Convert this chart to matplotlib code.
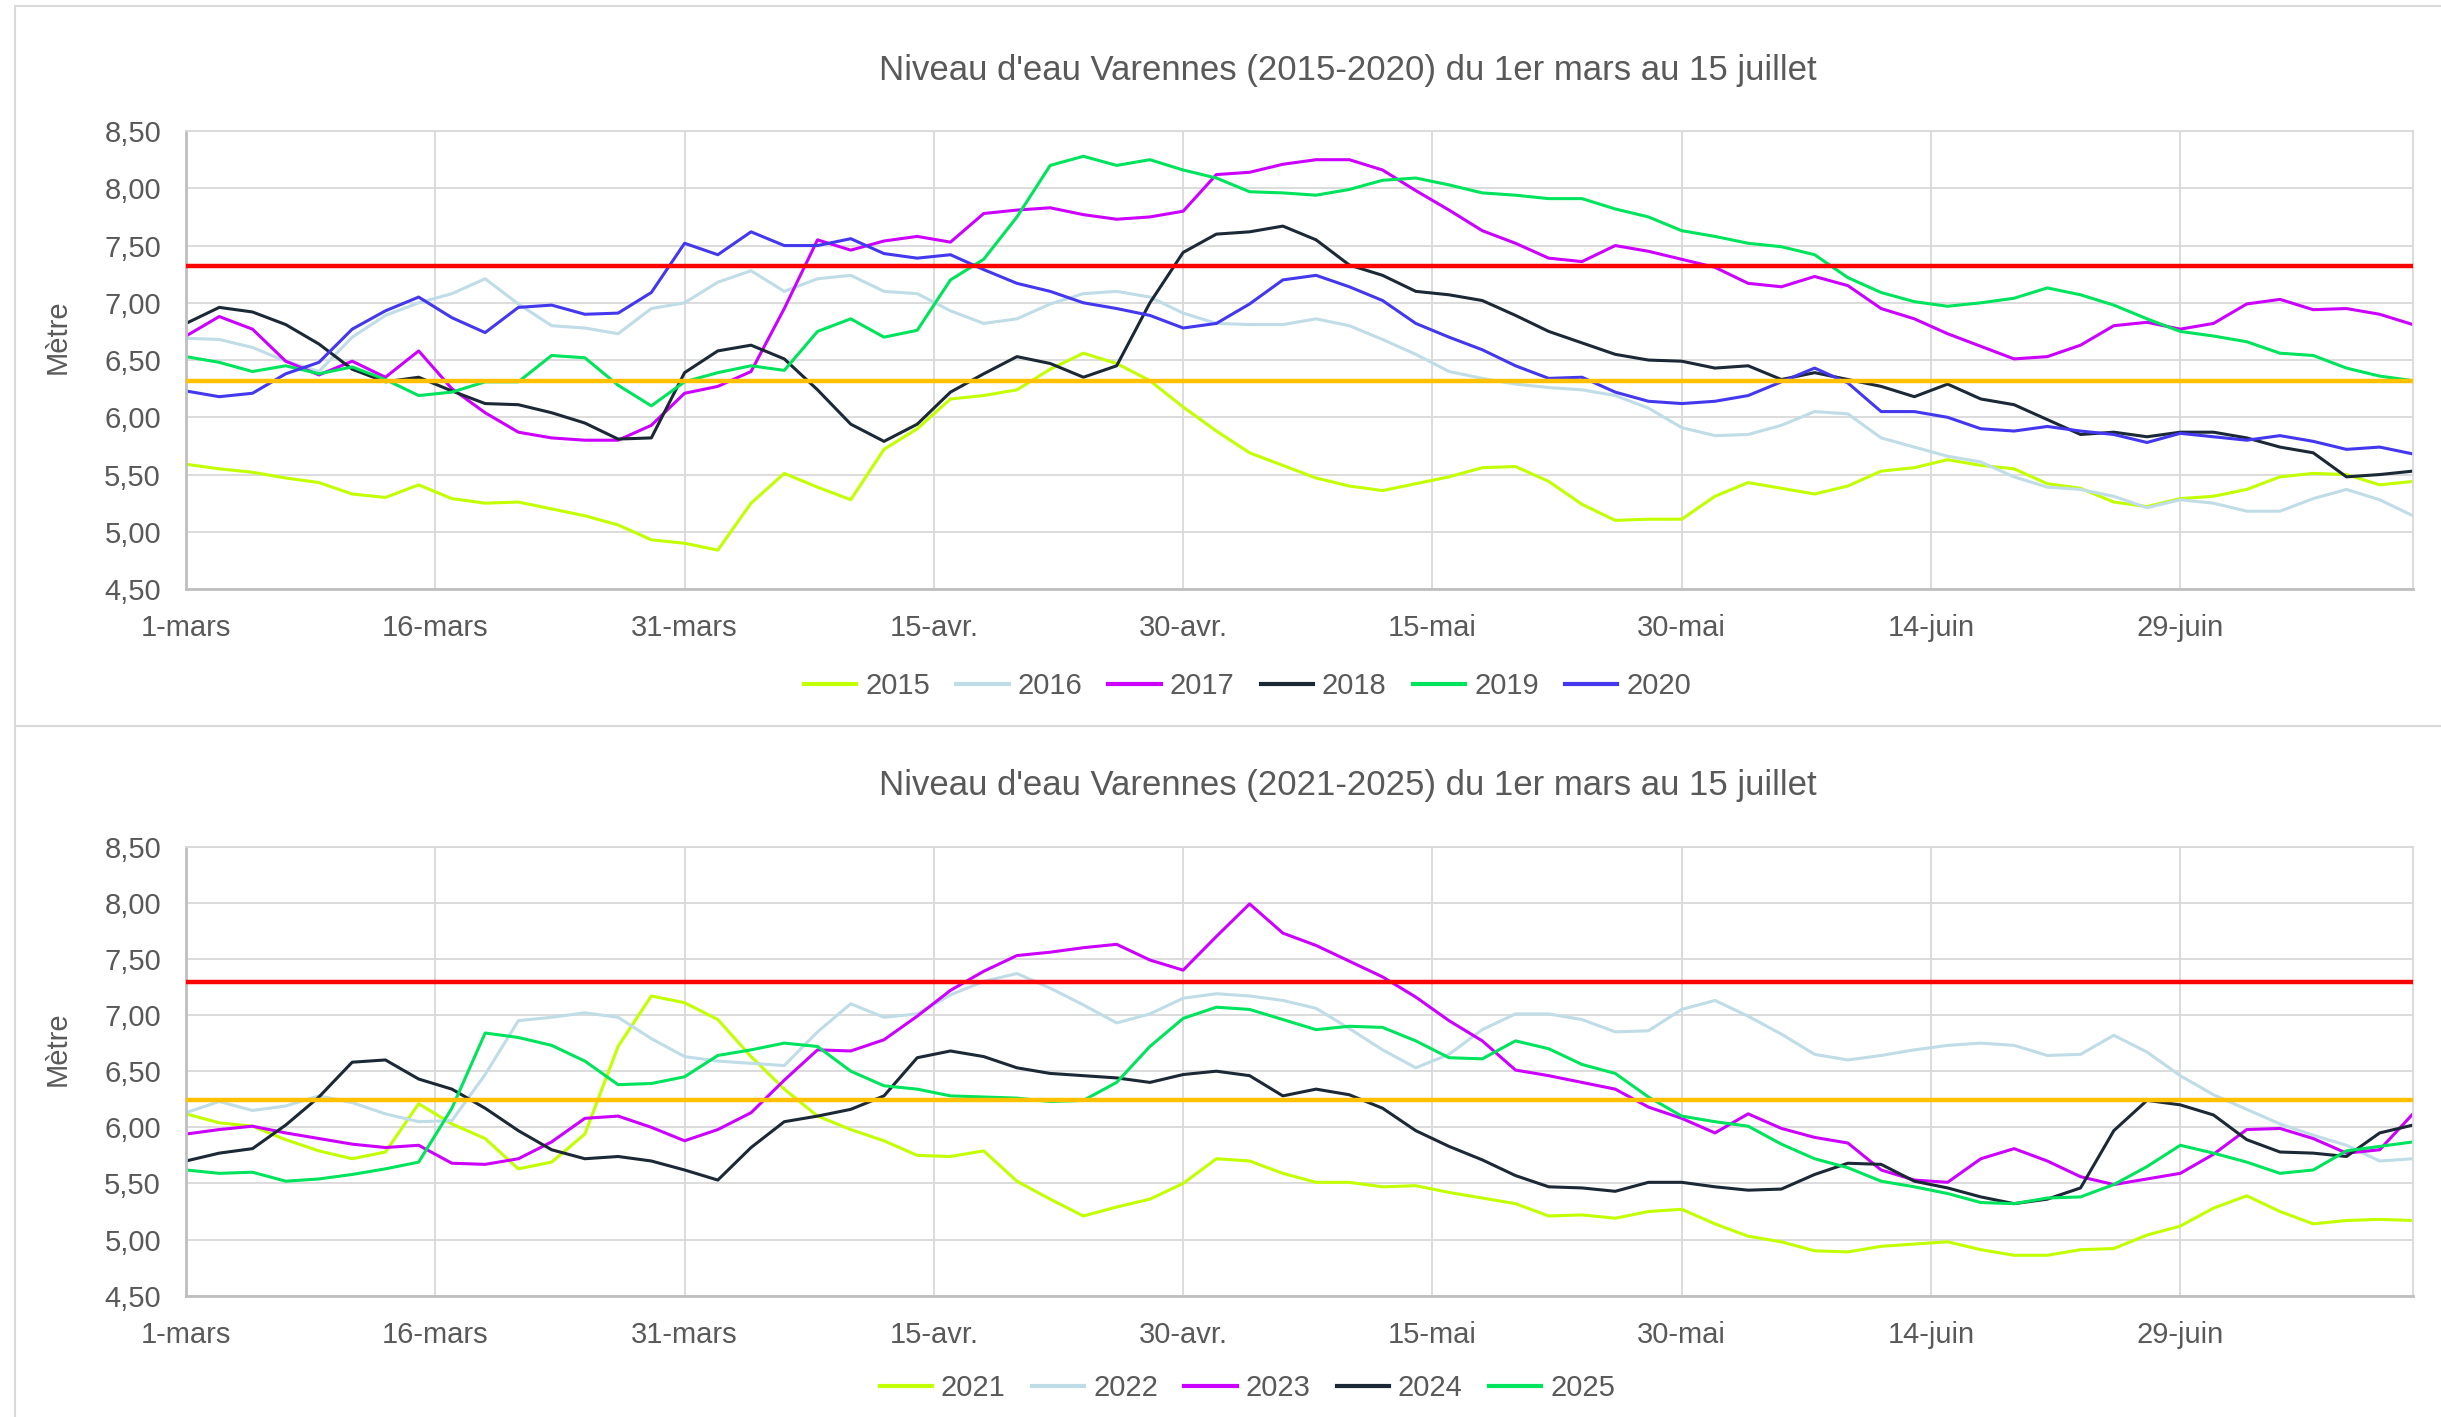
import numpy as np
import matplotlib.pyplot as plt
from matplotlib.patches import Rectangle

plt.rcParams['font.family'] = ['Liberation Sans', 'DejaVu Sans']

# day offset from 1 mars, every 2 days
days = np.arange(0, 135, 2)
tick_days = [0, 15, 30, 45, 60, 75, 90, 105, 120]
tick_labels = ["1-mars", "16-mars", "31-mars", "15-avr.", "30-avr.",
               "15-mai", "30-mai", "14-juin", "29-juin"]
y_ticks = [4.5, 5.0, 5.5, 6.0, 6.5, 7.0, 7.5, 8.0, 8.5]

# 2015-2020
y2015 = [5.59, 5.55, 5.52, 5.47, 5.43, 5.33, 5.30, 5.41, 5.29, 5.25,
         5.26, 5.20, 5.14, 5.06, 4.93, 4.90, 4.84, 5.25, 5.51, 5.39,
         5.28, 5.72, 5.90, 6.16, 6.19, 6.24, 6.42, 6.56, 6.47, 6.32,
         6.09, 5.88, 5.69, 5.58, 5.47, 5.40, 5.36, 5.42, 5.48, 5.56,
         5.57, 5.44, 5.24, 5.10, 5.11, 5.11, 5.31, 5.43, 5.38, 5.33,
         5.40, 5.53, 5.56, 5.63, 5.58, 5.55, 5.42, 5.38, 5.26, 5.22,
         5.29, 5.31, 5.37, 5.48, 5.51, 5.50, 5.41, 5.44]
y2016 = [6.69, 6.68, 6.61, 6.49, 6.40, 6.70, 6.89, 7.00, 7.08, 7.21,
         6.99, 6.80, 6.78, 6.73, 6.95, 7.00, 7.18, 7.28, 7.10, 7.21,
         7.24, 7.10, 7.08, 6.93, 6.82, 6.86, 6.99, 7.08, 7.10, 7.05,
         6.91, 6.82, 6.81, 6.81, 6.86, 6.80, 6.68, 6.55, 6.40, 6.34,
         6.29, 6.26, 6.24, 6.19, 6.08, 5.91, 5.84, 5.85, 5.93, 6.05,
         6.03, 5.82, 5.74, 5.66, 5.61, 5.48, 5.39, 5.37, 5.31, 5.21,
         5.28, 5.25, 5.18, 5.18, 5.29, 5.37, 5.28, 5.14]
y2017 = [6.71, 6.88, 6.77, 6.49, 6.37, 6.49, 6.35, 6.58, 6.25, 6.04,
         5.87, 5.82, 5.80, 5.80, 5.93, 6.21, 6.27, 6.40, 6.95, 7.55,
         7.46, 7.54, 7.58, 7.53, 7.78, 7.81, 7.83, 7.77, 7.73, 7.75,
         7.80, 8.12, 8.14, 8.21, 8.25, 8.25, 8.16, 7.98, 7.81, 7.63,
         7.52, 7.39, 7.36, 7.50, 7.45, 7.38, 7.31, 7.17, 7.14, 7.23,
         7.15, 6.95, 6.86, 6.73, 6.62, 6.51, 6.53, 6.63, 6.80, 6.83,
         6.77, 6.82, 6.99, 7.03, 6.94, 6.95, 6.90, 6.81]
y2018 = [6.82, 6.96, 6.92, 6.81, 6.64, 6.42, 6.31, 6.35, 6.23, 6.12,
         6.11, 6.04, 5.95, 5.81, 5.82, 6.39, 6.58, 6.63, 6.51, 6.24,
         5.94, 5.79, 5.94, 6.22, 6.38, 6.53, 6.47, 6.35, 6.45, 7.00,
         7.44, 7.60, 7.62, 7.67, 7.55, 7.33, 7.24, 7.10, 7.07, 7.02,
         6.89, 6.75, 6.65, 6.55, 6.50, 6.49, 6.43, 6.45, 6.33, 6.39,
         6.33, 6.27, 6.18, 6.29, 6.16, 6.11, 5.98, 5.85, 5.87, 5.83,
         5.87, 5.87, 5.82, 5.74, 5.69, 5.48, 5.50, 5.53]
y2019 = [6.53, 6.48, 6.40, 6.45, 6.38, 6.44, 6.33, 6.19, 6.22, 6.31,
         6.31, 6.54, 6.52, 6.28, 6.10, 6.31, 6.39, 6.45, 6.41, 6.75,
         6.86, 6.70, 6.76, 7.20, 7.38, 7.75, 8.20, 8.28, 8.20, 8.25,
         8.16, 8.09, 7.97, 7.96, 7.94, 7.99, 8.07, 8.09, 8.03, 7.96,
         7.94, 7.91, 7.91, 7.82, 7.75, 7.63, 7.58, 7.52, 7.49, 7.42,
         7.22, 7.09, 7.01, 6.97, 7.00, 7.04, 7.13, 7.07, 6.98, 6.86,
         6.75, 6.71, 6.66, 6.56, 6.54, 6.43, 6.36, 6.32]
y2020 = [6.23, 6.18, 6.21, 6.38, 6.48, 6.77, 6.93, 7.05, 6.87, 6.74,
         6.96, 6.98, 6.90, 6.91, 7.09, 7.52, 7.42, 7.62, 7.50, 7.50,
         7.56, 7.43, 7.39, 7.42, 7.29, 7.17, 7.10, 7.00, 6.95, 6.89,
         6.78, 6.82, 6.99, 7.20, 7.24, 7.14, 7.02, 6.82, 6.70, 6.59,
         6.45, 6.34, 6.35, 6.22, 6.14, 6.12, 6.14, 6.19, 6.31, 6.43,
         6.30, 6.05, 6.05, 6.00, 5.90, 5.88, 5.92, 5.88, 5.85, 5.78,
         5.86, 5.83, 5.80, 5.84, 5.79, 5.72, 5.74, 5.68]

# 2021-2025
y2021 = [6.12, 6.04, 6.01, 5.89, 5.79, 5.72, 5.78, 6.21, 6.03, 5.90,
         5.63, 5.69, 5.94, 6.72, 7.17, 7.11, 6.96, 6.63, 6.34, 6.10,
         5.98, 5.88, 5.75, 5.74, 5.79, 5.52, 5.36, 5.21, 5.29, 5.36,
         5.50, 5.72, 5.70, 5.59, 5.51, 5.51, 5.47, 5.48, 5.42, 5.37,
         5.32, 5.21, 5.22, 5.19, 5.25, 5.27, 5.14, 5.03, 4.98, 4.90,
         4.89, 4.94, 4.96, 4.98, 4.91, 4.86, 4.86, 4.91, 4.92, 5.04,
         5.12, 5.28, 5.39, 5.25, 5.14, 5.17, 5.18, 5.17]
y2022 = [6.13, 6.23, 6.15, 6.19, 6.28, 6.22, 6.12, 6.05, 6.06, 6.47,
         6.95, 6.98, 7.02, 6.98, 6.79, 6.63, 6.59, 6.57, 6.55, 6.85,
         7.10, 6.98, 7.01, 7.18, 7.30, 7.37, 7.24, 7.09, 6.93, 7.01,
         7.15, 7.19, 7.17, 7.13, 7.06, 6.88, 6.69, 6.53, 6.65, 6.87,
         7.01, 7.01, 6.96, 6.85, 6.86, 7.05, 7.13, 6.99, 6.83, 6.65,
         6.60, 6.64, 6.69, 6.73, 6.75, 6.73, 6.64, 6.65, 6.82, 6.67,
         6.46, 6.29, 6.16, 6.03, 5.93, 5.84, 5.70, 5.72]
y2023 = [5.94, 5.98, 6.01, 5.95, 5.90, 5.85, 5.82, 5.84, 5.68, 5.67,
         5.72, 5.87, 6.08, 6.10, 6.00, 5.88, 5.98, 6.13, 6.42, 6.69,
         6.68, 6.78, 6.99, 7.22, 7.39, 7.53, 7.56, 7.60, 7.63, 7.49,
         7.40, 7.70, 7.99, 7.73, 7.62, 7.48, 7.34, 7.16, 6.95, 6.77,
         6.51, 6.46, 6.40, 6.34, 6.18, 6.08, 5.95, 6.12, 5.99, 5.91,
         5.86, 5.62, 5.53, 5.51, 5.72, 5.81, 5.70, 5.56, 5.49, 5.54,
         5.59, 5.76, 5.98, 5.99, 5.90, 5.77, 5.80, 6.12]
y2024 = [5.70, 5.77, 5.81, 6.02, 6.27, 6.58, 6.60, 6.43, 6.34, 6.17,
         5.97, 5.80, 5.72, 5.74, 5.70, 5.62, 5.53, 5.82, 6.05, 6.10,
         6.16, 6.28, 6.62, 6.68, 6.63, 6.53, 6.48, 6.46, 6.44, 6.40,
         6.47, 6.50, 6.46, 6.28, 6.34, 6.29, 6.17, 5.97, 5.83, 5.71,
         5.57, 5.47, 5.46, 5.43, 5.51, 5.51, 5.47, 5.44, 5.45, 5.58,
         5.68, 5.67, 5.52, 5.46, 5.38, 5.32, 5.36, 5.46, 5.97, 6.24,
         6.20, 6.11, 5.89, 5.78, 5.77, 5.74, 5.95, 6.02]
y2025 = [5.62, 5.59, 5.60, 5.52, 5.54, 5.58, 5.63, 5.69, 6.17, 6.84,
         6.80, 6.73, 6.59, 6.38, 6.39, 6.45, 6.64, 6.69, 6.75, 6.72,
         6.50, 6.37, 6.34, 6.28, 6.27, 6.26, 6.23, 6.24, 6.40, 6.72,
         6.97, 7.07, 7.05, 6.96, 6.87, 6.90, 6.89, 6.77, 6.62, 6.61,
         6.77, 6.70, 6.56, 6.48, 6.27, 6.10, 6.05, 6.01, 5.85, 5.72,
         5.64, 5.52, 5.47, 5.41, 5.33, 5.32, 5.37, 5.38, 5.49, 5.65,
         5.84, 5.77, 5.69, 5.59, 5.62, 5.79, 5.83, 5.87]

# reference levels (red / orange)
top_red, top_orange = 7.32, 6.32
bot_red, bot_orange = 7.29, 6.24

colors = ['#C2FF00', '#BFDCE7', '#CC00FF', '#1B2836', '#00E35C', '#4338EE']
grey_txt = '#595959'

fig = plt.figure(figsize=(24.41, 14.17), dpi=100)
ax1 = fig.add_axes([0.0762, 0.5843, 0.9123, 0.3232])
ax2 = fig.add_axes([0.0762, 0.0856, 0.9123, 0.3169])

# chart borders
fig.patches.append(Rectangle((0.006, 0.4876), 1.0, 0.5082, transform=fig.transFigure,
                             fill=False, edgecolor='#D9D9D9', lw=1.5))
fig.patches.append(Rectangle((0.006, -0.01), 1.0, 0.4976, transform=fig.transFigure,
                             fill=False, edgecolor='#D9D9D9', lw=1.5))


def setup(ax, title):
    ax.set_xlim(0, 134)
    ax.set_ylim(4.5, 8.5)
    ax.set_xticks(tick_days)
    ax.set_xticklabels(tick_labels)
    ax.set_yticks(y_ticks)
    ax.set_yticklabels([f"{v:.2f}".replace('.', ',') for v in y_ticks])
    ax.grid(True, color='#D9D9D9', lw=1.3)
    ax.set_axisbelow(True)
    ax.tick_params(length=0, labelsize=21, colors=grey_txt, pad=18)
    for s in ['left', 'bottom']:
        ax.spines[s].set_color('#BFBFBF')
        ax.spines[s].set_linewidth(2)
    for s in ['top', 'right']:
        ax.spines[s].set_color('#D9D9D9')
        ax.spines[s].set_linewidth(1.3)
    ax.set_title(title, fontsize=25, color=grey_txt, pad=37)
    ax.title.set_x(0.5216)  # title is centred on the chart box, not the plot area
    ax.set_ylabel('Mètre', fontsize=21, color=grey_txt)
    ax.yaxis.set_label_coords(-0.0512, 0.55)


top_series = [('2015', y2015), ('2016', y2016), ('2017', y2017),
              ('2018', y2018), ('2019', y2019), ('2020', y2020)]
for (name, vals), c in zip(top_series, colors):
    ax1.plot(days, vals, color=c, lw=2.2, label=name)
ax1.axhline(top_red, color='#FF0000', lw=3.2, zorder=5)
ax1.axhline(top_orange, color='#FFC000', lw=3.2, zorder=5)
setup(ax1, "Niveau d'eau Varennes (2015-2020) du 1er mars au 15 juillet")

bot_series = [('2021', y2021), ('2022', y2022), ('2023', y2023),
              ('2024', y2024), ('2025', y2025)]
for (name, vals), c in zip(bot_series, colors):
    ax2.plot(days, vals, color=c, lw=2.2, label=name)
ax2.axhline(bot_red, color='#FF0000', lw=3.2, zorder=5)
ax2.axhline(bot_orange, color='#FFC000', lw=3.2, zorder=5)
setup(ax2, "Niveau d'eau Varennes (2021-2025) du 1er mars au 15 juillet")

for ax, ypos, n in [(ax1, 0.516, 6), (ax2, 0.0205, 5)]:
    leg = fig.legend(*ax.get_legend_handles_labels(), loc='center',
                     bbox_to_anchor=(0.511, ypos), ncol=n, frameon=False,
                     fontsize=21, handlelength=1.8, handletextpad=0.3,
                     columnspacing=0.9)
    for t in leg.get_texts():
        t.set_color(grey_txt)
    for h in leg.get_lines():
        h.set_linewidth(3)

fig.savefig('out.png', dpi=100, facecolor='white')
